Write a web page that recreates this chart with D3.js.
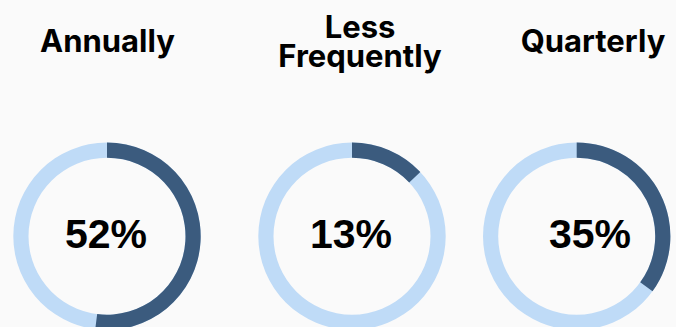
<!DOCTYPE html>
<html>
<head>
<meta charset="utf-8">
<script src="https://cdn.jsdelivr.net/npm/d3@7"></script>
<style>
  html, body { margin: 0; padding: 0; background: #fafafa; }
  svg { display: block; }
</style>
</head>
<body>
<svg id="chart" width="676" height="327"></svg>
<script>
// Frequency breakdown, one ring per category
const categories = ["Annually", "Less Frequently", "Quarterly"];
const titleLines = [["Annually"], ["Less", "Frequently"], ["Quarterly"]];
const shares = [52, 13, 35];
const valueLabels = ["52%", "13%", "35%"];

const svg = d3.select("#chart");

// Column layout
const ringX = d3.scaleOrdinal().domain(categories).range([107, 352, 576.7]);
const titleX = d3.scaleOrdinal().domain(categories).range([107.5, 360, 593]);
const valueX = d3.scaleOrdinal().domain(categories).range([106, 351, 590]);
const ringY = 236.2;
const outerR = 93.7, innerR = 78.5;

const colorFill = "#3b5b7e";
const colorTrack = "#bfdbf7";

const angle = d3.scaleLinear().domain([0, 100]).range([0, 2 * Math.PI]);
const arc = d3.arc().innerRadius(innerR).outerRadius(outerR);

const groups = svg.selectAll("g.donut")
  .data(categories.map((c, i) => ({ cat: c, value: shares[i], label: valueLabels[i], lines: titleLines[i] })))
  .join("g")
  .attr("class", "donut");

// Track ring
groups.append("path")
  .attr("transform", d => `translate(${ringX(d.cat)},${ringY})`)
  .attr("fill", colorTrack)
  .attr("d", () => arc({ startAngle: 0, endAngle: 2 * Math.PI }));

// Value arc
groups.append("path")
  .attr("transform", d => `translate(${ringX(d.cat)},${ringY})`)
  .attr("fill", colorFill)
  .attr("d", d => arc({ startAngle: 0, endAngle: angle(d.value) }));

// Centre value
groups.append("text")
  .attr("x", d => valueX(d.cat))
  .attr("y", 248)
  .attr("text-anchor", "middle")
  .attr("font-family", "'Liberation Sans', Arial, sans-serif")
  .attr("font-weight", 700)
  .attr("font-size", 41)
  .attr("fill", "#000")
  .text(d => d.label);

// Titles (wrapped lines as tspans of a single text)
const lh = 28.5;
const titles = groups.append("text")
  .attr("x", d => titleX(d.cat))
  .attr("y", d => d.lines.length === 1 ? 52 : 38)
  .attr("text-anchor", "middle")
  .attr("font-family", "Inter, 'Noto Sans', sans-serif")
  .attr("font-weight", 700)
  .attr("font-size", 31)
  .attr("fill", "#000");

titles.selectAll("tspan")
  .data(d => d.lines.map((line, j) => ({ line, j, x: titleX(d.cat) })))
  .join("tspan")
  .attr("x", t => t.x)
  .attr("dy", t => t.j === 0 ? 0 : lh)
  .text(t => t.line);
</script>
</body>
</html>
